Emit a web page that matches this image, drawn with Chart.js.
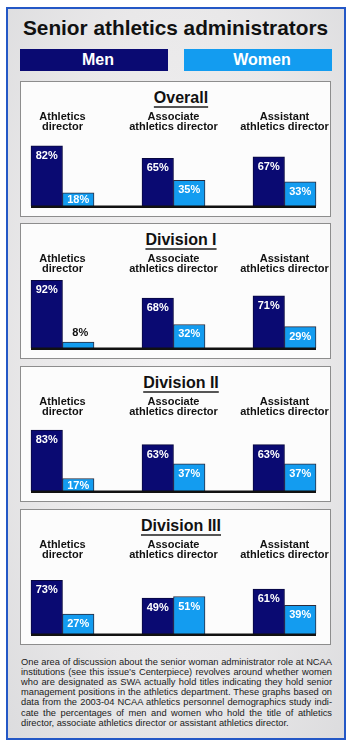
<!DOCTYPE html>
<html><head><meta charset="utf-8">
<script src="https://cdn.jsdelivr.net/npm/chart.js@4/dist/chart.umd.min.js"></script>
<style>
html,body{margin:0;padding:0;background:#fff;}
body{width:350px;height:746px;position:relative;overflow:hidden;font-family:"Liberation Sans",Arial,Helvetica,sans-serif;}
#frame{position:absolute;left:6px;top:7px;width:340px;height:733px;box-sizing:border-box;border:2px solid #2458c6;background:radial-gradient(ellipse at 50% 45%, #f4f3f4 0%, #e9e8e9 60%, #dcdcde 100%);}
#title{position:absolute;left:0;top:17.4px;width:351px;text-align:center;font-weight:bold;font-size:20.8px;line-height:21px;color:#111;white-space:nowrap;}
.leg{position:absolute;top:49px;width:148px;height:22px;box-sizing:border-box;padding-left:8px;color:#fff;font-weight:bold;font-size:16px;line-height:22px;text-align:center;}
.panel{position:absolute;left:20px;width:311px;height:136px;box-sizing:border-box;border:1px solid #8d8d8d;background:#fcfcfc;}
.ptitle{position:absolute;left:40px;width:282px;text-align:center;font-weight:bold;font-size:16px;line-height:16px;color:#111;}
.ptitle span{text-decoration:underline;text-decoration-thickness:1.5px;text-underline-offset:3px;text-decoration-color:#555;}
canvas.c{position:absolute;left:20px;}
#note{position:absolute;left:21px;top:656.5px;width:311px;font-size:9.3px;line-height:10.2px;color:#1a1a1a;}
#note div{text-align:justify;text-align-last:justify;white-space:nowrap;}
#note div.last{text-align-last:left;}
</style>
</head>
<body>
<div id="frame"></div>
<div id="title">Senior athletics administrators</div>
<div class="leg" id="legMen" style="left:20px;"></div>
<div class="leg" id="legWomen" style="left:184px;"></div>
<div id="panels"></div>
<div id="note">
<div>One area of discussion about the senior woman administrator role at NCAA</div>
<div>institutions (see this issue’s Centerpiece) revolves around whether women</div>
<div>who are designated as SWA actually hold titles indicating they hold senior</div>
<div>management positions in the athletics department. These graphs based on</div>
<div>data from the 2003-04 NCAA athletics personnel demographics study indi-</div>
<div>cate the percentages of men and women who hold the title of athletics</div>
<div class="last">director, associate athletics director or assistant athletics director.</div>
</div>
<script>
// ---- data ----
const categories = [['Athletics', 'director'], ['Associate', 'athletics director'], ['Assistant', 'athletics director']];
const seriesNames = ['Men', 'Women'];
const panelTitles = ['Overall', 'Division I', 'Division II', 'Division III'];
const menOverall = [82, 65, 67];
const womenOverall = [18, 35, 33];
const menDiv1 = [92, 68, 71];
const womenDiv1 = [8, 32, 29];
const menDiv2 = [83, 63, 63];
const womenDiv2 = [17, 37, 37];
const menDiv3 = [73, 49, 61];
const womenDiv3 = [27, 51, 39];
const menSeries = [menOverall, menDiv1, menDiv2, menDiv3];
const womenSeries = [womenOverall, womenDiv1, womenDiv2, womenDiv3];

// ---- style ----
const MEN_COLOR = '#0a0a72';
const WOMEN_COLOR = '#139cf0';
const FONT = '"Liberation Sans", Arial, Helvetica, sans-serif';
const panelTops = [81, 223, 366, 509];

document.getElementById('legMen').textContent = seriesNames[0];
document.getElementById('legMen').style.background = MEN_COLOR;
document.getElementById('legWomen').textContent = seriesNames[1];
document.getElementById('legWomen').style.background = WOMEN_COLOR;

const barDecor = {
  id: 'barDecor',
  afterDatasetsDraw(chart) {
    const ctx = chart.ctx;
    const y0 = chart.scales.y.getPixelForValue(0);
    let minX = Infinity, maxX = -Infinity;
    chart.data.datasets.forEach((ds, di) => {
      chart.getDatasetMeta(di).data.forEach(bar => {
        minX = Math.min(minX, bar.x - bar.width / 2);
        maxX = Math.max(maxX, bar.x + bar.width / 2);
      });
    });
    ctx.save();
    ctx.fillStyle = '#111';
    ctx.fillRect(minX, y0 - 0.5, maxX - minX, 2.5);
    ctx.font = 'bold 11px ' + FONT;
    ctx.textAlign = 'center';
    ctx.textBaseline = 'alphabetic';
    chart.data.datasets.forEach((ds, di) => {
      chart.getDatasetMeta(di).data.forEach((bar, i) => {
        const v = ds.data[i];
        const h = bar.base - bar.y;
        const txt = v + '%';
        if (h < 11) {
          ctx.fillStyle = '#111';
          ctx.fillText(txt, bar.x + 2, bar.y - 6);
        } else {
          ctx.fillStyle = '#fff';
          ctx.fillText(txt, bar.x, bar.y + Math.min(13, h / 2 + 4));
        }
      });
    });
    ctx.restore();
  }
};

const panelsEl = document.getElementById('panels');
panelTitles.forEach((t, p) => {
  const top = panelTops[p];
  const panel = document.createElement('div');
  panel.className = 'panel';
  panel.style.top = top + 'px';
  panelsEl.appendChild(panel);
  const title = document.createElement('div');
  title.className = 'ptitle';
  title.style.top = (top + 8.5) + 'px';
  const sp = document.createElement('span');
  sp.textContent = t;
  title.appendChild(sp);
  panelsEl.appendChild(title);
  const cv = document.createElement('canvas');
  cv.className = 'c';
  cv.width = 311; cv.height = 102;
  cv.style.width = '311px'; cv.style.height = '102px';
  cv.style.top = (top + 27) + 'px';
  panelsEl.appendChild(cv);

  new Chart(cv, {
    type: 'bar',
    data: {
      labels: categories,
      datasets: [
        { label: seriesNames[0], data: menSeries[p], backgroundColor: MEN_COLOR, borderColor: '#08083f', borderWidth: 1, barThickness: 31.5, clip: false },
        { label: seriesNames[1], data: womenSeries[p], backgroundColor: WOMEN_COLOR, borderColor: '#2b2b3c', borderWidth: 1, barThickness: 31.5, clip: false }
      ]
    },
    options: {
      responsive: false,
      animation: false,
      devicePixelRatio: 1,
      layout: { padding: { left: 42.5, right: 46.5, top: 0, bottom: 4 } },
      plugins: { legend: { display: false }, tooltip: { enabled: false } },
      scales: {
        x: {
          position: 'top',
          offset: false,
          grid: { display: false, drawTicks: false },
          border: { display: false },
          ticks: { color: '#111', font: { family: FONT, size: 11, weight: 'bold', lineHeight: 0.95 }, padding: 0, maxRotation: 0, minRotation: 0, autoSkip: false },
          afterFit(axis) { axis.height = 24.5; }
        },
        y: { display: false, min: 0, max: 100 }
      }
    },
    plugins: [barDecor]
  });
});
</script>
</body></html>
